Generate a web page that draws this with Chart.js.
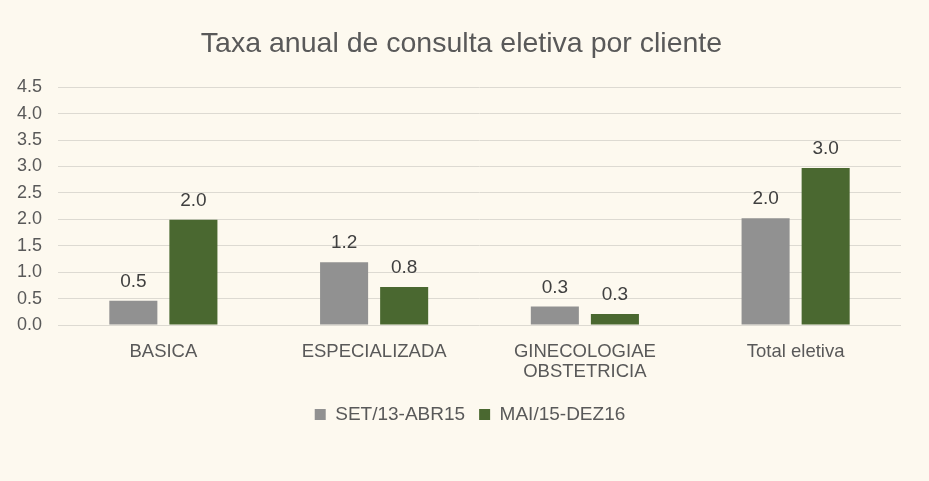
<!DOCTYPE html>
<html>
<head>
<meta charset="utf-8">
<script src="https://cdn.jsdelivr.net/npm/chart.js@4/dist/chart.umd.min.js"></script>
<style>
  html, body { margin: 0; padding: 0; background: #FDF9EF; }
  #wrap { width: 929px; height: 481px; }
</style>
</head>
<body>
<div id="wrap"><canvas id="chart"></canvas></div>
<script>
// --- Data ---
const categories = ['BASICA', 'ESPECIALIZADA', ['GINECOLOGIAE', 'OBSTETRICIA'], 'Total eletiva'];
const seriesNames = ['SET/13-ABR15', 'MAI/15-DEZ16'];
const periodA = [0.46, 1.19, 0.35, 2.02];
const periodB = [1.99, 0.72, 0.21, 2.97];
const labelsA = ['0.5', '1.2', '0.3', '2.0'];
const labelsB = ['2.0', '0.8', '0.3', '3.0'];
const yTicks = [0, 0.5, 1, 1.5, 2, 2.5, 3, 3.5, 4, 4.5];

const textColor = '#595959';
const fontFamily = '"Liberation Sans", Arial, sans-serif';

// draw the value labels above each bar
const valueLabels = {
    id: 'valueLabels',
    afterDatasetsDraw(chart) {
        const ctx = chart.ctx;
        const texts = [labelsA, labelsB];
        ctx.save();
        ctx.font = '19px ' + fontFamily;
        ctx.fillStyle = '#404040';
        ctx.textAlign = 'center';
        ctx.textBaseline = 'alphabetic';
        chart.data.datasets.forEach((ds, i) => {
            chart.getDatasetMeta(i).data.forEach((bar, j) => {
                ctx.fillText(texts[i][j], bar.x, bar.y - 14);
            });
        });
        ctx.restore();
    }
};

// title and legend sit a little right of the canvas centre
const blockShift = {
    id: 'blockShift',
    afterLayout(chart) {
        if (chart.titleBlock) {
            chart.titleBlock.left += 8.5;
            chart.titleBlock.right += 8.5;
        }
        if (chart.legend) {
            chart.legend.left += 17;
            chart.legend.right += 17;
        }
    }
};

const ctx = document.getElementById('chart').getContext('2d');
new Chart(ctx, {
    type: 'bar',
    data: {
        labels: categories,
        datasets: [{
            label: seriesNames[0],
            data: periodA,
            backgroundColor: '#919191',
            categoryPercentage: 0.57,
            barPercentage: 0.8
        }, {
            label: seriesNames[1],
            data: periodB,
            backgroundColor: '#4A6830',
            categoryPercentage: 0.57,
            barPercentage: 0.8
        }]
    },
    options: {
        responsive: true,
        maintainAspectRatio: false,
        animation: false,
        layout: { padding: { left: 5, right: 28, top: 10, bottom: 47 } },
        scales: {
            x: {
                grid: { display: false },
                border: { display: false },
                ticks: { color: textColor, font: { size: 18.5, family: fontFamily, lineHeight: 1.08 }, padding: 9, maxRotation: 0 }
            },
            y: {
                min: 0,
                max: 4.5,
                afterBuildTicks: (axis) => { axis.ticks = yTicks.map(v => ({ value: v })); },
                afterFit: (axis) => { axis.width = 53; },
                grid: { color: '#DDDAD2', lineWidth: 1, drawTicks: false },
                border: { display: false },
                ticks: {
                    color: textColor,
                    font: { size: 18, family: fontFamily },
                    padding: 16,
                    callback: (v) => Number(v).toFixed(1)
                }
            }
        },
        plugins: {
            title: {
                display: true,
                text: 'Taxa anual de consulta eletiva por cliente',
                color: textColor,
                font: { size: 28.5, family: fontFamily, weight: 'normal' },
                padding: { top: 17, bottom: 26 }
            },
            legend: {
                position: 'bottom',
                labels: {
                    color: textColor,
                    font: { size: 19, family: fontFamily },
                    boxWidth: 11,
                    boxHeight: 11,
                    padding: 14
                }
            },
            tooltip: { enabled: false }
        }
    },
    plugins: [valueLabels, blockShift]
});
</script>
</body>
</html>
